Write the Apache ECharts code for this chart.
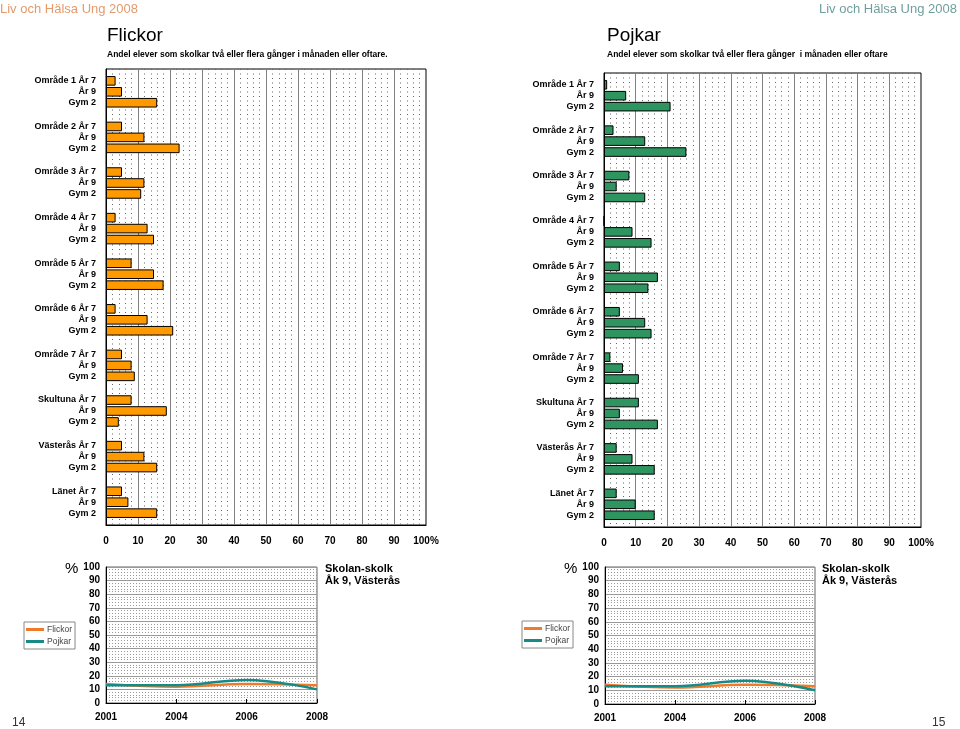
<!DOCTYPE html>
<html><head><meta charset="utf-8">
<script src="https://cdn.jsdelivr.net/npm/echarts@6/dist/echarts.min.js"></script>
<style>html,body{margin:0;padding:0;background:#fff}#c{width:960px;height:729px}</style>
</head><body><div id="c"></div>
<script>
// ---- data ----
const areas = ['Område 1','Område 2','Område 3','Område 4','Område 5','Område 6','Område 7','Skultuna','Västerås','Länet'];
const levels = ['År 7','År 9','Gym 2'];
const flickorAr7  = [3, 5, 5, 3, 8, 3, 5, 8, 5, 5];
const flickorAr9  = [5, 12, 12, 13, 15, 13, 8, 19, 12, 7];
const flickorGym2 = [16, 23, 11, 15, 18, 21, 9, 4, 16, 16];
const pojkarAr7   = [1, 3, 8, 0, 5, 5, 2, 11, 4, 4];
const pojkarAr9   = [7, 13, 4, 9, 17, 13, 6, 5, 9, 10];
const pojkarGym2  = [21, 26, 13, 15, 14, 15, 11, 17, 16, 16];
const years = ['2001','2004','2006','2008'];
const trendFlickor = [14, 12, 14, 13];
const trendPojkar  = [13, 13, 17, 10];

const SANS = "'Liberation Sans', Arial, sans-serif";
const ORANGE = '#FF9900', GREEN = '#2E9460';
const LINE_OR = '#EE7A2A', LINE_TEAL = '#168A86';

const chart = echarts.init(document.getElementById('c'), null, {renderer:'canvas'});

function barX(gi){
  return {gridIndex: gi, type:'value', min:0, max:100, interval:10,
    axisLine:{show:true, lineStyle:{color:'#000'}}, axisTick:{show:false},
    axisLabel:{fontFamily:SANS, fontWeight:'bold', fontSize:10, color:'#000', margin:11,
      formatter: v => v === 100 ? '100%' : String(v)},
    splitLine:{show:true, lineStyle:{color:'#808080', width:1}},
    minorTick:{show:false, splitNumber:5},
    minorSplitLine:{show:true, lineStyle:{color:'#666', width:1, type:[1,3.5]}}};
}
function barY(gi){
  return {gridIndex: gi, type:'category', data: areas, inverse:true,
    axisLine:{show:true, lineStyle:{color:'#000'}}, axisTick:{show:false},
    axisLabel:{fontFamily:SANS, fontWeight:'bold', fontSize:9, color:'#000', margin:10,
      lineHeight:11, align:'right',
      formatter: v => v + ' ' + levels[0] + '\n' + levels[1] + '\n' + levels[2]},
    splitLine:{show:false}};
}
function lineX(gi){
  return {gridIndex: gi, type:'category', data: years, boundaryGap:false,
    axisLine:{show:true, lineStyle:{color:'#000'}},
    axisTick:{show:true, inside:true, length:4, lineStyle:{color:'#000'}},
    axisLabel:{fontFamily:SANS, fontWeight:'bold', fontSize:10, color:'#000', margin:9},
    splitLine:{show:false}};
}
function lineY(gi){
  return {gridIndex: gi, type:'value', min:0, max:100, interval:10,
    axisLine:{show:true, lineStyle:{color:'#000'}},
    axisTick:{show:false},
    axisLabel:{fontFamily:SANS, fontWeight:'bold', fontSize:10, color:'#000', margin:6},
    splitLine:{show:true, lineStyle:{color:'#999', width:1}},
    minorTick:{show:false, splitNumber:5},
    minorSplitLine:{show:true, lineStyle:{color:'#9a9a9a', width:1, type:[1,2]}}};
}
function barSeries(name, gi, vals, color){
  return {name, type:'bar', xAxisIndex:gi, yAxisIndex:gi, data: vals,
    barWidth:9.6, barGap:'14%',
    itemStyle:{color, borderColor:'#000', borderWidth:1}, silent:true, animation:false};
}
function lineSeries(name, gi, vals, color){
  return {name, type:'line', xAxisIndex:gi, yAxisIndex:gi, data: vals, smooth:0.4,
    showSymbol:false, lineStyle:{color, width:2.5}, itemStyle:{color}, animation:false};
}
function txt(text, pos, style){
  return Object.assign({text, padding:0, textStyle:Object.assign({fontFamily:SANS, fontWeight:'normal', color:'#000'}, style)}, pos);
}

const option = {
  backgroundColor:'#fff',
  animation:false,
  title:[
    txt('Liv och Hälsa Ung 2008', {left:0, top:3}, {fontSize:13, color:'#E39A6C'}),
    txt('Liv och Hälsa Ung 2008', {right:3, top:3}, {fontSize:13, color:'#6F9F9B'}),
    txt('Flickor', {left:107, top:26}, {fontSize:19}),
    txt('Andel elever som skolkar två eller flera gånger i månaden eller oftare.', {left:107, top:50}, {fontSize:8.5, fontWeight:'bold'}),
    txt('Pojkar', {left:607, top:26}, {fontSize:19}),
    txt('Andel elever som skolkar två eller flera gånger  i månaden eller oftare', {left:607, top:50}, {fontSize:8.5, fontWeight:'bold'}),
    txt('%', {left:65, top:561}, {fontSize:15}),
    txt('%', {left:564, top:561}, {fontSize:15}),
    txt('Skolan-skolk\nÅk 9, Västerås', {left:325, top:563}, {fontSize:11, fontWeight:'bold', lineHeight:12}),
    txt('Skolan-skolk\nÅk 9, Västerås', {left:822, top:563}, {fontSize:11, fontWeight:'bold', lineHeight:12}),
    txt('14', {left:12, top:717}, {fontSize:12, color:'#333'}),
    txt('15', {left:932, top:717}, {fontSize:12, color:'#333'})
  ],
  legend:[
    {data:['Flickor','Pojkar'], orient:'vertical', left:24, top:622, itemWidth:18, itemHeight:3, itemGap:3,
      icon:'rect', padding:[3,3,3,2], borderColor:'#888', borderWidth:1, backgroundColor:'#fff',
      textStyle:{fontFamily:SANS, fontSize:8.5, color:'#444', padding:[0,0,0,-2]}, selectedMode:false},
    {data:['Flickor','Pojkar'], orient:'vertical', left:522, top:621, itemWidth:18, itemHeight:3, itemGap:3,
      icon:'rect', padding:[3,3,3,2], borderColor:'#888', borderWidth:1, backgroundColor:'#fff',
      textStyle:{fontFamily:SANS, fontSize:8.5, color:'#444', padding:[0,0,0,-2]}, selectedMode:false}
  ],
  grid:[
    {left:106, top:69, width:320, height:456, show:true, borderColor:'#000', borderWidth:1, containLabel:false},
    {left:604, top:73, width:317, height:454, show:true, borderColor:'#000', borderWidth:1, containLabel:false},
    {left:106, top:567, width:211, height:136, show:true, borderColor:'#666', borderWidth:1, containLabel:false},
    {left:605, top:567, width:210, height:137, show:true, borderColor:'#666', borderWidth:1, containLabel:false}
  ],
  xAxis:[barX(0), barX(1), lineX(2), lineX(3)],
  yAxis:[barY(0), barY(1), lineY(2), lineY(3)],
  series:[
    barSeries('Flickor ' + levels[0], 0, flickorAr7, ORANGE),
    barSeries('Flickor ' + levels[1], 0, flickorAr9, ORANGE),
    barSeries('Flickor ' + levels[2], 0, flickorGym2, ORANGE),
    barSeries('Pojkar ' + levels[0], 1, pojkarAr7, GREEN),
    barSeries('Pojkar ' + levels[1], 1, pojkarAr9, GREEN),
    barSeries('Pojkar ' + levels[2], 1, pojkarGym2, GREEN),
    lineSeries('Flickor', 2, trendFlickor, LINE_OR),
    lineSeries('Pojkar', 2, trendPojkar, LINE_TEAL),
    lineSeries('Flickor', 3, trendFlickor, LINE_OR),
    lineSeries('Pojkar', 3, trendPojkar, LINE_TEAL)
  ]
};
chart.setOption(option);
</script>
</body></html>
